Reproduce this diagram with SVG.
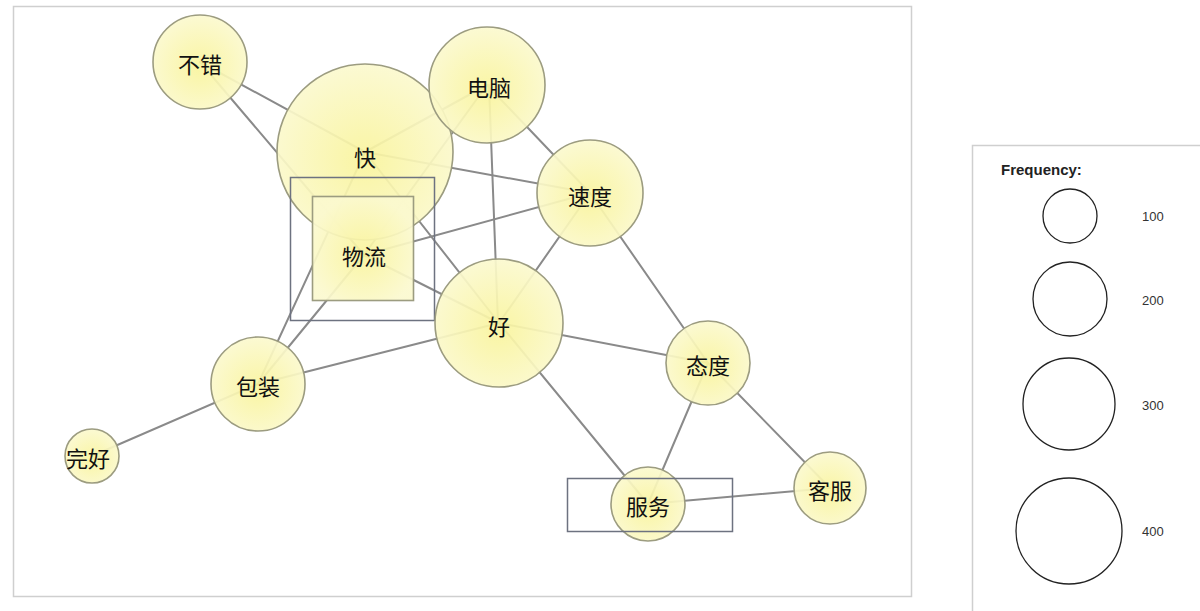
<svg xmlns="http://www.w3.org/2000/svg" width="1200" height="611" viewBox="0 0 1200 611">
<defs>
<radialGradient id="g" cx="0.5" cy="0.55" r="0.55">
<stop offset="0" stop-color="#f9f49c"/>
<stop offset="1" stop-color="#fbf9cf"/>
</radialGradient>
<style>
.n{fill:url(#g);fill-opacity:0.92;stroke:#9c9c80;stroke-width:1.6}
.t{font-family:"Noto Sans CJK SC","Noto Sans",sans-serif;font-size:22px;fill:#111;text-anchor:middle;dominant-baseline:central}
.e{stroke:#8a8a8a;stroke-width:2;stroke-linecap:round}
.box{fill:none;stroke:#6d7280;stroke-width:1.5}
.lc{fill:none;stroke:#222;stroke-width:1.3}
.lt{font-family:"Liberation Sans",Arial,sans-serif;font-size:13px;fill:#333}
</style>
</defs>
<rect x="0" y="0" width="1200" height="611" fill="#fff"/>
<rect x="13.5" y="6.5" width="898" height="590" fill="none" stroke="#cfcfcf" stroke-width="1.5"/>
<g id="connectors">
<line class="e" x1="200" y1="62" x2="365" y2="152"/>
<line class="e" x1="200" y1="62" x2="364" y2="255"/>
<line class="e" x1="365" y1="152" x2="487" y2="85"/>
<line class="e" x1="364" y1="255" x2="487" y2="85"/>
<line class="e" x1="365" y1="152" x2="590" y2="193"/>
<line class="e" x1="364" y1="255" x2="590" y2="193"/>
<line class="e" x1="487" y1="85" x2="590" y2="193"/>
<line class="e" x1="489" y1="85" x2="498" y2="323"/>
<line class="e" x1="365" y1="152" x2="499" y2="323"/>
<line class="e" x1="364" y1="255" x2="499" y2="323"/>
<line class="e" x1="590" y1="193" x2="499" y2="323"/>
<line class="e" x1="590" y1="193" x2="708" y2="363"/>
<line class="e" x1="499" y1="323" x2="708" y2="363"/>
<line class="e" x1="499" y1="323" x2="648" y2="504"/>
<line class="e" x1="708" y1="363" x2="648" y2="504"/>
<line class="e" x1="708" y1="363" x2="830" y2="488"/>
<line class="e" x1="648" y1="504" x2="830" y2="488"/>
<line class="e" x1="258" y1="384" x2="499" y2="323"/>
<line class="e" x1="258" y1="384" x2="365" y2="152"/>
<line class="e" x1="258" y1="384" x2="364" y2="255"/>
<line class="e" x1="92" y1="456" x2="258" y2="384"/>
</g>
<g id="node-buco"><circle class="n" cx="200" cy="62" r="47"/><text class="t" x="200" y="63">不错</text></g>
<g id="node-kuai"><circle class="n" cx="365" cy="152" r="88"/><text class="t" x="365" y="156">快</text></g>
<g id="node-diannao"><circle class="n" cx="487" cy="85" r="58"/><text class="t" x="489" y="86">电脑</text></g>
<g id="node-sudu"><circle class="n" cx="590" cy="193" r="53"/><text class="t" x="590" y="195">速度</text></g>
<g id="node-wuliu"><rect class="box" x="290.5" y="177.5" width="144" height="143"/><rect class="n" x="312.5" y="196.5" width="101" height="104"/><text class="t" x="364" y="255">物流</text></g>
<g id="node-hao"><circle class="n" cx="499" cy="323" r="64"/><text class="t" x="499" y="325">好</text></g>
<g id="node-baozhuang"><circle class="n" cx="258" cy="384" r="47"/><text class="t" x="258" y="385">包装</text></g>
<g id="node-wanhao"><circle class="n" cx="92" cy="456" r="27"/><text class="t" x="88" y="457">完好</text></g>
<g id="node-taidu"><circle class="n" cx="708" cy="363" r="42"/><text class="t" x="708" y="364">态度</text></g>
<g id="node-fuwu"><circle class="n" cx="648" cy="504" r="37"/><rect class="box" x="567.5" y="478.5" width="165" height="53"/><text class="t" x="648" y="505">服务</text></g>
<g id="node-kefu"><circle class="n" cx="830" cy="488" r="36"/><text class="t" x="830" y="489">客服</text></g>
<g id="legend">
<rect x="972.5" y="145.5" width="240" height="480" fill="#fff" stroke="#cfcfcf" stroke-width="1.5"/>
<text x="1001" y="175" font-family="Liberation Sans,Arial,sans-serif" font-size="15" font-weight="bold" fill="#222">Frequency:</text>
<circle class="lc" cx="1070" cy="216" r="27"/>
<circle class="lc" cx="1070" cy="299" r="37"/>
<circle class="lc" cx="1069" cy="404" r="46"/>
<circle class="lc" cx="1069" cy="531" r="53"/>
<text class="lt" x="1142" y="221">100</text>
<text class="lt" x="1142" y="305">200</text>
<text class="lt" x="1142" y="410">300</text>
<text class="lt" x="1142" y="536">400</text>
</g>
</svg>
